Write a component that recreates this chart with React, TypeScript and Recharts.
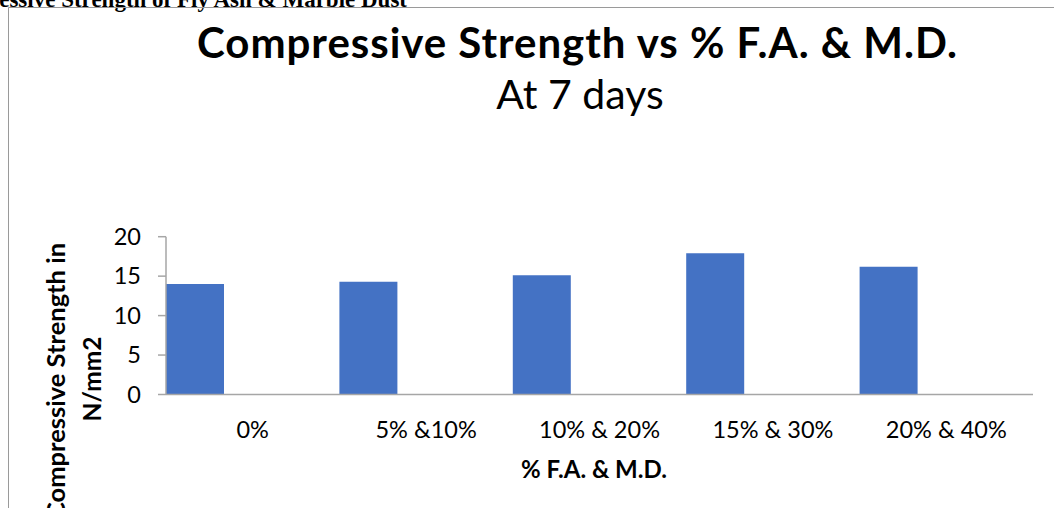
import React from "react";
import { BarChart, Bar, XAxis, YAxis } from "recharts";

const categories = ["0%", "5% &10%", "10% & 20%", "15% & 30%", "20% & 40%"];
const strength7Days = [14.0, 14.3, 15.1, 17.9, 16.2];
const yTicks = [0, 5, 10, 15, 20];

const data = categories.map((c, i) => ({ category: c, strength: strength7Days[i] }));

const FONT = "Lato, 'Open Sans', sans-serif";
const AXIS_COLOR = "#a6a6a6";

export default function App() {
  return (
    <div style={{ position: "relative", width: 1054, height: 508, overflow: "hidden", background: "#fff" }}>
      <style>{`body{margin:0}`}</style>
      <BarChart
        width={1054}
        height={508}
        data={data}
        margin={{ top: 236.7, right: 21, bottom: 53.5, left: 0 }}
        barCategoryGap={0}
        barGap={0}
      >
        <XAxis
          dataKey="category"
          height={60}
          tickLine={false}
          tickSize={0}
          tickMargin={27}
          axisLine={{ stroke: AXIS_COLOR, strokeWidth: 1.5 }}
          tick={{ fill: "#000", fontSize: 23.5, fontFamily: FONT }}
          interval={0}
        />
        <YAxis
          width={166}
          domain={[0, 20]}
          ticks={yTicks}
          tickSize={8}
          tickMargin={17}
          axisLine={{ stroke: AXIS_COLOR, strokeWidth: 1.5 }}
          tickLine={{ stroke: AXIS_COLOR, strokeWidth: 1.5 }}
          tick={{ fill: "#000", fontSize: 23.5, fontFamily: FONT }}
        />
        <Bar dataKey="strength" fill="#4472C4" isAnimationActive={false} />
        <Bar dataKey="seriesB" fill="#ED7D31" isAnimationActive={false} />
        <Bar dataKey="seriesC" fill="#A5A5A5" isAnimationActive={false} />
      </BarChart>
      <svg
        width={1054}
        height={508}
        style={{ position: "absolute", left: 0, top: 0, pointerEvents: "none" }}
      >
        <text
          x={407}
          y={7}
          textAnchor="end"
          fontFamily="'Liberation Serif', 'Times New Roman', serif"
          fontWeight="bold"
          fontSize={23}
          fill="#000"
        >
          Compressive Strength of Fly Ash &amp; Marble Dust
        </text>
        <path d="M8.5 520 V7.5 H1100" fill="none" stroke="#9a9a9a" strokeWidth={1} />
        <text
          x={577}
          y={58}
          textAnchor="middle"
          fontFamily={FONT}
          fontWeight="bold"
          fontSize={42}
          textLength={760}
          lengthAdjust="spacing"
          fill="#000"
        >
          Compressive Strength vs % F.A. &amp; M.D.
        </text>
        <text x={580} y={109} textAnchor="middle" fontFamily={FONT} fontSize={41} fill="#000">
          At 7 days
        </text>
        <text x={594} y={478} textAnchor="middle" fontFamily={FONT} fontWeight="bold" fontSize={24} fill="#000">
          % F.A. &amp; M.D.
        </text>
        <text
          x={65}
          y={381}
          textAnchor="middle"
          transform="rotate(-90, 65, 381)"
          fontFamily={FONT}
          fontWeight="bold"
          fontSize={25.5}
          fill="#000"
        >
          Compressive Strength in
        </text>
        <text
          x={101}
          y={379}
          textAnchor="middle"
          transform="rotate(-90, 101, 379)"
          fontFamily={FONT}
          fontWeight="bold"
          fontSize={24.5}
          fill="#000"
        >
          N/mm2
        </text>
      </svg>
    </div>
  );
}
